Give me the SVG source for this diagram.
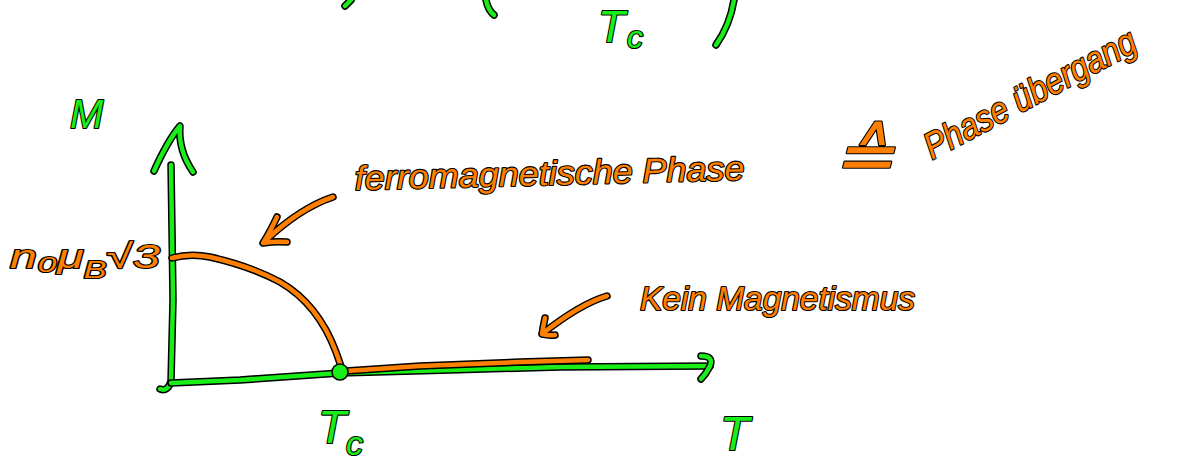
<svg xmlns="http://www.w3.org/2000/svg" xmlns:xlink="http://www.w3.org/1999/xlink" width="1178" height="462" viewBox="0 0 1178 462">
<style>
.halo{fill:none;stroke:#000;stroke-width:7.5;stroke-linecap:round;stroke-linejoin:round}
.g{fill:none;stroke:#19ee19;stroke-width:4.5;stroke-linecap:round;stroke-linejoin:round}
.o{fill:none;stroke:#ff8000;stroke-width:4.5;stroke-linecap:round;stroke-linejoin:round}
.t{font-family:"Liberation Sans",Arial,sans-serif;font-style:italic;paint-order:stroke;stroke:#000;stroke-width:2.2;stroke-linejoin:round}
.tg{fill:#19ee19}
.to{fill:#ff8000}
</style>
<defs>
<path id="vaxis" d="M160,389 Q168,392 171,381 L173,300 L172,230 L171,165"/>
<path id="vhead" d="M154,171 Q168,140 180,126 Q178,150 193,172"/>
<path id="haxis" d="M171,383 L240,380 L340,373 L450,370 L560,367 L710,366"/>
<path id="hhead" d="M701,356 Q714,356 710,366 Q706,374 701,379"/>
<path id="curve" d="M172,258 Q190,253 210,257 Q250,266 280,282 Q318,304 336,352 L343,372"/>
<path id="flat" d="M346,371 L420,366 L520,362 L588,360"/>
<path id="arr1" d="M333,197 Q300,208 265,241 M277,217 Q270,232 263,243 Q276,241 287,242"/>
<path id="arr2" d="M607,296 Q580,304 542,334 M545,318 Q543,327 542,334 Q549,336 555,335"/>
<path id="frag1" d="M345,6 L351,0"/>
<path id="frag2" d="M486,0 Q488,10 494,15"/>
<path id="frag3" d="M734,0 Q730,25 716,45"/>
</defs>
<g id="axes">
<use xlink:href="#vaxis" class="halo"/><use xlink:href="#vaxis" class="g"/>
<use xlink:href="#vhead" class="halo"/><use xlink:href="#vhead" class="g"/>
<use xlink:href="#haxis" class="halo"/><use xlink:href="#haxis" class="g"/>
<use xlink:href="#hhead" class="halo"/><use xlink:href="#hhead" class="g"/>
</g>
<g id="top-fragments">
<use xlink:href="#frag1" class="halo"/><use xlink:href="#frag1" class="g"/>
<use xlink:href="#frag2" class="halo"/><use xlink:href="#frag2" class="g"/>
<use xlink:href="#frag3" class="halo"/><use xlink:href="#frag3" class="g"/>
<text class="t tg" x="598" y="42" font-size="44">T</text>
<text class="t tg" x="627" y="48" font-size="32">c</text>
</g>
<g id="magnetization-curve">
<use xlink:href="#curve" class="halo"/><use xlink:href="#curve" class="o"/>
<use xlink:href="#flat" class="halo"/><use xlink:href="#flat" class="o"/>
<circle cx="340" cy="372" r="8" fill="#19ee19" stroke="#000" stroke-width="1.5"/>
</g>
<g id="connectors">
<use xlink:href="#arr1" class="halo"/><use xlink:href="#arr1" class="o"/>
<use xlink:href="#arr2" class="halo"/><use xlink:href="#arr2" class="o"/>
</g>
<g id="label-M"><text class="t tg" x="70" y="128" font-size="40">M</text></g>
<g id="label-Ms"><text class="t to" x="10" y="268" font-size="34" textLength="150" lengthAdjust="spacingAndGlyphs">n₀μ<tspan font-size="24" dy="10">B</tspan><tspan dy="-10">√3</tspan></text></g>
<g id="label-ferro"><text class="t to" x="355" y="190" font-size="34" textLength="390" lengthAdjust="spacingAndGlyphs" transform="rotate(-1.5 355 190)">ferromagnetische Phase</text></g>
<g id="label-kein"><text class="t to" x="640" y="310" font-size="34" textLength="275" lengthAdjust="spacingAndGlyphs">Kein Magnetismus</text></g>
<g id="label-phase">
<text class="t to" x="832" y="180" font-size="72" textLength="62" lengthAdjust="spacingAndGlyphs">≙</text>
<text class="t to" x="932" y="160" font-size="37" textLength="235" lengthAdjust="spacingAndGlyphs" transform="rotate(-28 932 160)">Phase übergang</text>
</g>
<g id="label-Tc"><text class="t tg" x="318" y="443" font-size="46">T</text><text class="t tg" x="346" y="455" font-size="34">c</text></g>
<g id="label-T"><text class="t tg" x="720" y="450" font-size="48">T</text></g>
</svg>
